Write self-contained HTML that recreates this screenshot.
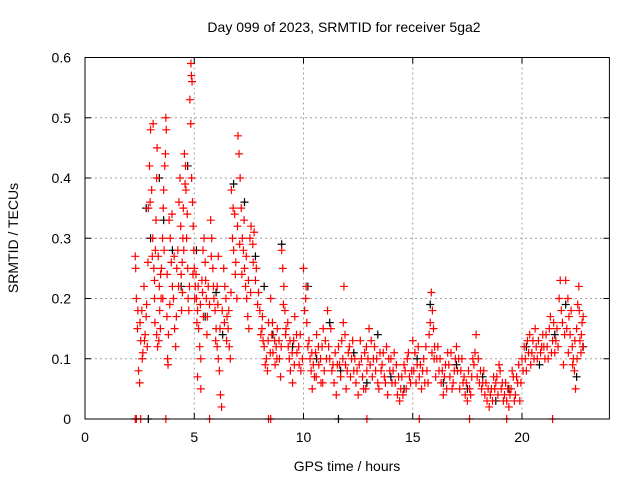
<!DOCTYPE html>
<html><head><meta charset="utf-8"><style>
body{margin:0;background:#fff}
svg{display:block;font-family:"Liberation Sans",sans-serif}
</style></head><body>
<svg id="c" width="640" height="480">
<rect width="640" height="480" fill="#fff"/>
<g id="grid"></g><g id="marks"></g><g id="axes"></g>
<text x="344" y="32" font-size="14" text-anchor="middle">Day 099 of 2023, SRMTID for receiver 5ga2</text>
<text x="347" y="471" font-size="14" text-anchor="middle">GPS time / hours</text>
<text x="18" y="238" font-size="14" text-anchor="middle" transform="rotate(-90 18 238)">SRMTID / TECUs</text>
</svg>
<script>
const xTicks=[0,5,10,15,20];
const yTicks=[0,0.1,0.2,0.3,0.4,0.5,0.6];
const yTickLabels=["0","0.1","0.2","0.3","0.4","0.5","0.6"];
const redPts=[[2.3,0.27],[2.35,0.2],[2.4,0.15],[2.45,0.08],[2.5,0.06],[2.55,0.13],[2.6,0.18],[2.65,0.11],[2.7,0.22],[2.75,0.14],[2.8,0.17],[2.85,0.12],
[2.9,0.35],[2.95,0.42],[3.0,0.48],[3.05,0.38],[3.1,0.3],[3.12,0.49],[3.15,0.25],[3.18,0.2],[3.2,0.16],[3.22,0.28],[3.25,0.33],[3.28,0.4],[3.3,0.45],[3.32,0.12],
[3.35,0.27],[3.4,0.22],[3.42,0.18],[3.45,0.15],[3.48,0.2],[3.5,0.25],[3.55,0.3],[3.58,0.35],[3.6,0.38],[3.65,0.42],[3.7,0.5],[3.72,0.48],[3.75,0.17],[3.78,0.1],[3.8,0.09],
[3.85,0.33],[3.9,0.3],[3.95,0.26],[4.0,0.22],[4.05,0.2],[4.1,0.15],[4.15,0.12],[4.2,0.25],[4.25,0.28],[4.3,0.36],[4.35,0.4],[4.4,0.24],[4.42,0.18],[4.45,0.26],[4.48,0.3],[4.5,0.35],
[4.55,0.44],[4.6,0.42],[4.62,0.38],[4.65,0.3],[4.7,0.25],[4.72,0.2],[4.75,0.18],[4.8,0.53],[4.85,0.59],[4.87,0.57],[4.9,0.56],[4.92,0.36],[4.95,0.32],[4.98,0.28],
[5.0,0.25],[5.05,0.22],[5.1,0.2],[5.15,0.18],[5.2,0.15],[5.25,0.12],[5.3,0.1],[5.35,0.23],[5.4,0.28],[5.45,0.3],[5.5,0.26],[5.55,0.2],[5.6,0.17],[5.15,0.07],[5.3,0.05],
[5.75,0.33],[5.8,0.3],[5.85,0.25],[5.9,0.2],[5.95,0.18],[6.0,0.15],[6.05,0.12],[6.1,0.1],[6.15,0.08],[6.2,0.04],[6.25,0.02],[6.05,0.22],[6.1,0.27],
[6.35,0.25],[6.4,0.22],[6.45,0.2],[6.5,0.17],[6.55,0.15],[6.6,0.12],[6.65,0.1],[6.7,0.38],[6.75,0.3],[6.8,0.28],[6.85,0.34],[6.9,0.26],[6.95,0.2],
[7.0,0.47],[7.05,0.44],[7.1,0.4],[7.15,0.35],[7.2,0.3],[7.25,0.28],[7.3,0.25],[7.35,0.22],[7.4,0.2],[7.45,0.17],[7.5,0.15],[7.55,0.3],[7.6,0.32],[7.7,0.26],[7.8,0.23],[7.9,0.19],
[8.0,0.18],[8.1,0.15],[8.15,0.13],[8.2,0.12],[8.3,0.1],[8.35,0.08],[8.4,0.16],[8.5,0.2],[8.55,0.14],[8.6,0.11],[8.7,0.09],[8.75,0.12],[8.8,0.15],[8.9,0.1],[8.95,0.07],
[9.0,0.28],[9.05,0.25],[9.1,0.22],[9.15,0.18],[9.2,0.15],[9.3,0.12],[9.35,0.1],[9.4,0.08],[9.5,0.06],[9.55,0.13],[9.6,0.17],[9.7,0.11],[9.8,0.09],[9.85,0.14],[9.95,0.1],
[10.0,0.25],[10.1,0.2],[10.15,0.16],[10.2,0.12],[10.3,0.1],[10.35,0.08],[10.4,0.05],[10.5,0.07],[10.55,0.11],[10.6,0.14],[10.7,0.09],[10.8,0.06],[10.85,0.12],[10.9,0.15],[10.95,0.08],
[11.0,0.13],[11.1,0.18],[11.2,0.1],[11.3,0.08],[11.4,0.06],[11.5,0.04],[11.55,0.09],[11.6,0.12],[11.7,0.07],[11.8,0.1],[11.85,0.22],[11.9,0.14],[11.95,0.05],[12.0,0.08],
[12.1,0.12],[12.2,0.1],[12.3,0.08],[12.4,0.06],[12.5,0.04],[12.55,0.09],[12.6,0.13],[12.7,0.07],[12.8,0.11],[12.85,0.05],[12.9,0.08],[12.95,0.1],
[13.0,0.15],[13.1,0.13],[13.2,0.1],[13.3,0.08],[13.4,0.06],[13.45,0.05],[13.5,0.11],[13.6,0.09],[13.7,0.07],[13.8,0.12],[13.85,0.04],[13.95,0.08],
[14.0,0.1],[14.1,0.08],[14.2,0.06],[14.3,0.04],[14.4,0.03],[14.5,0.07],[14.6,0.09],[14.7,0.05],[14.8,0.11],[14.9,0.06],[14.95,0.08],
[15.0,0.13],[15.1,0.11],[15.2,0.09],[15.3,0.07],[15.4,0.05],[15.5,0.1],[15.6,0.12],[15.65,0.08],[15.7,0.06],[15.75,0.14],[15.85,0.21],[15.9,0.18],[15.95,0.15],
[16.0,0.12],[16.1,0.1],[16.2,0.08],[16.3,0.06],[16.4,0.04],[16.5,0.09],[16.6,0.11],[16.7,0.07],[16.8,0.05],[16.9,0.08],
[17.0,0.12],[17.1,0.1],[17.2,0.08],[17.3,0.06],[17.4,0.04],[17.5,0.03],[17.6,0.05],[17.7,0.07],[17.8,0.09],[17.85,0.11],[17.9,0.14],
[18.0,0.1],[18.1,0.08],[18.2,0.06],[18.3,0.04],[18.4,0.03],[18.5,0.02],[18.6,0.05],[18.7,0.07],[18.8,0.06],[18.9,0.04],[18.95,0.09],
[19.0,0.08],[19.1,0.06],[19.2,0.04],[19.3,0.03],[19.4,0.02],[19.5,0.05],[19.6,0.07],[19.7,0.04],[19.8,0.06],[19.9,0.03],
[20.0,0.1],[20.1,0.12],[20.2,0.08],[20.3,0.11],[20.4,0.09],[20.5,0.13],[20.6,0.15],[20.7,0.1],[20.9,0.12],
[21.0,0.12],[21.1,0.14],[21.2,0.1],[21.3,0.17],[21.4,0.13],[21.5,0.11],[21.6,0.15],[21.7,0.2],[21.75,0.23],[21.8,0.18],[21.9,0.09],[21.95,0.14],
[22.0,0.23],[22.1,0.2],[22.15,0.17],[22.2,0.14],[22.3,0.12],[22.35,0.1],[22.4,0.08],[22.45,0.05],[22.5,0.15],[22.55,0.19],[22.6,0.22],[22.65,0.13],[22.7,0.11],[22.75,0.16],
[2.3,0],[2.35,0],[2.55,0],[3.7,0],[5.7,0],[8.4,0],[8.5,0],[12.9,0],[15.3,0],[17.6,0],[19.3,0],[21.4,0]];
const redPts2=[[2.32,0.25],[2.42,0.18],[2.52,0.16],[2.62,0.1],[2.72,0.13],[2.82,0.19],[2.88,0.26],[2.98,0.36],[3.08,0.27],[3.18,0.23],[3.28,0.14],[3.38,0.13],[3.46,0.24],[3.56,0.2],[3.62,0.28],[3.68,0.44],[3.76,0.24],[3.82,0.14],[3.88,0.19],[3.98,0.34],[4.08,0.27],[4.18,0.17],[4.28,0.22],[4.38,0.32],[4.46,0.21],[4.52,0.28],[4.58,0.39],[4.68,0.34],[4.78,0.22],[4.84,0.49],[4.88,0.4],[4.94,0.24],
[5.02,0.2],[5.08,0.24],[5.12,0.16],[5.18,0.22],[5.28,0.19],[5.38,0.21],[5.42,0.17],[5.52,0.23],[5.58,0.14],[5.64,0.22],[5.7,0.19],[5.78,0.27],[5.88,0.22],[5.98,0.13],[6.08,0.19],[6.18,0.15],[6.28,0.18],[6.38,0.16],[6.48,0.13],[6.58,0.18],[6.68,0.21],[6.78,0.35],[6.88,0.24],[6.98,0.32],
[7.08,0.29],[7.18,0.24],[7.28,0.33],[7.38,0.27],[7.48,0.23],[7.58,0.21],[7.68,0.29],[7.74,0.31],[7.84,0.25],[7.94,0.21],[8.05,0.14],[8.12,0.17],[8.25,0.09],[8.38,0.13],[8.48,0.11],[8.58,0.16],[8.68,0.13],[8.78,0.1],[8.88,0.13],[8.98,0.12],[9.08,0.19],[9.18,0.14],[9.28,0.16],[9.38,0.13],[9.48,0.11],[9.58,0.09],[9.68,0.14],[9.78,0.12],[9.88,0.08],
[10.05,0.18],[10.12,0.22],[10.25,0.13],[10.38,0.11],[10.45,0.09],[10.58,0.07],[10.68,0.12],[10.78,0.1],[10.88,0.06],[11.05,0.1],[11.15,0.12],[11.25,0.15],[11.35,0.09],[11.45,0.11],[11.65,0.09],[11.75,0.13],[11.82,0.16],[11.92,0.09],[12.05,0.11],[12.15,0.07],[12.25,0.13],[12.35,0.1],[12.45,0.08],[12.65,0.1],[12.75,0.05],[12.88,0.12],
[13.05,0.09],[13.15,0.07],[13.25,0.12],[13.35,0.1],[13.55,0.08],[13.65,0.11],[13.75,0.06],[13.9,0.1],[14.05,0.06],[14.15,0.11],[14.25,0.09],[14.35,0.07],[14.45,0.05],[14.55,0.04],[14.65,0.08],[14.75,0.1],[14.85,0.07],[15.05,0.08],[15.15,0.06],[15.25,0.12],[15.35,0.09],[15.45,0.08],[15.55,0.06],[15.8,0.16],[15.88,0.11],[15.98,0.1],
[16.05,0.07],[16.15,0.12],[16.25,0.1],[16.35,0.08],[16.45,0.07],[16.55,0.05],[16.65,0.09],[16.75,0.11],[16.85,0.06],[16.95,0.1],[17.05,0.08],[17.15,0.05],[17.25,0.1],[17.35,0.07],[17.45,0.06],[17.55,0.08],[17.65,0.04],[17.75,0.1],[17.95,0.07],[18.05,0.06],[18.15,0.05],[18.25,0.08],[18.35,0.06],[18.45,0.05],[18.55,0.04],[18.65,0.03],[18.75,0.05],[18.85,0.07],
[19.05,0.05],[19.15,0.03],[19.25,0.06],[19.35,0.05],[19.45,0.04],[19.55,0.08],[19.65,0.03],[19.75,0.07],[19.85,0.09],[19.95,0.06],[20.05,0.08],[20.15,0.1],[20.25,0.13],[20.35,0.14],[20.45,0.11],[20.55,0.1],[20.65,0.12],[20.75,0.13],[20.85,0.11],[20.95,0.14],[21.05,0.1],[21.15,0.12],[21.25,0.15],[21.35,0.11],[21.45,0.16],[21.55,0.13],[21.65,0.12],[21.85,0.16],
[22.05,0.15],[22.12,0.11],[22.25,0.18],[22.32,0.09],[22.42,0.13],[22.52,0.1],[22.62,0.18],[22.72,0.14],[22.78,0.12],[22.8,0.17]];
const blackPts=[[2.8,0.35],[3.0,0.3],[3.4,0.4],[3.6,0.33],[4.0,0.28],[4.4,0.22],[4.7,0.42],[5.1,0.28],[5.5,0.17],[6.0,0.21],[6.3,0.14],[6.8,0.39],[7.3,0.36],[7.8,0.27],[8.2,0.22],[8.6,0.14],[9.0,0.29],[9.5,0.12],[10.2,0.22],[10.6,0.1],[11.2,0.16],[11.7,0.08],[12.3,0.11],[12.9,0.06],[13.4,0.14],[14.0,0.07],[14.6,0.05],[15.2,0.1],[15.8,0.19],[16.4,0.06],[17.0,0.09],[17.5,0.05],[18.2,0.07],[18.8,0.03],[19.4,0.05],[20.2,0.12],[20.8,0.09],[21.5,0.14],[22.0,0.19],[22.5,0.07],[22.8,0.12],[2.9,0],[11.6,0]];
const X0=85,X1=609.4,Y0=419,Y1=57.5;
const xs=h=>X0+(h/24)*(X1-X0);
const ys=v=>Y0-(v/0.6)*(Y0-Y1);
const NS="http://www.w3.org/2000/svg";
function mk(t,a,p){const e=document.createElementNS(NS,t);for(const k in a)e.setAttribute(k,a[k]);p.appendChild(e);return e;}
const grid=document.getElementById('grid'),axes=document.getElementById('axes'),marks=document.getElementById('marks');
xTicks.forEach(t=>{const x=xs(t);
 if(t>0){const g=mk('line',{x1:x,x2:x,y1:Y1,y2:Y0,stroke:'#a0a0a0','stroke-dasharray':'2,3'},grid);
 
 }
 mk('line',{x1:x,x2:x,y1:Y0,y2:Y0-6,stroke:'#000'},axes);mk('line',{x1:x,x2:x,y1:Y1,y2:Y1+6,stroke:'#000'},axes);
 const l=mk('text',{x:x,y:442,'font-size':14,'text-anchor':'middle'},axes);l.textContent=t;
 
 });
yTicks.forEach((t,i)=>{const y=ys(t);
 if(t>0){const g=mk('line',{x1:X0,x2:X1,y1:y,y2:y,stroke:'#a0a0a0','stroke-dasharray':'2,3'},grid);
 
 }
 mk('line',{x1:X0,x2:X0+6,y1:y,y2:y,stroke:'#000'},axes);mk('line',{x1:X1,x2:X1-6,y1:y,y2:y,stroke:'#000'},axes);
 const l=mk('text',{x:71,y:y+5,'font-size':14,'text-anchor':'end'},axes);l.textContent=yTickLabels[i];
 
 });
const fr=mk('rect',{x:X0,y:Y1,width:X1-X0,height:Y0-Y1,fill:'none',stroke:'#000'},axes);


function plus(h,v,col,nm){const x=xs(h),y=ys(v);
 const p=mk('path',{d:`M${x-4},${y}h8M${x},${y-4}v8`,stroke:col,'stroke-width':1.2,fill:'none'},marks);
 
 }
blackPts.forEach(p=>plus(p[0],p[1],'#000','black-point'));
redPts.forEach(p=>plus(p[0],p[1],'#f00','red-point'));
redPts2.forEach(p=>plus(p[0],p[1],'#f00','red-point'));
</script>
</body></html>
